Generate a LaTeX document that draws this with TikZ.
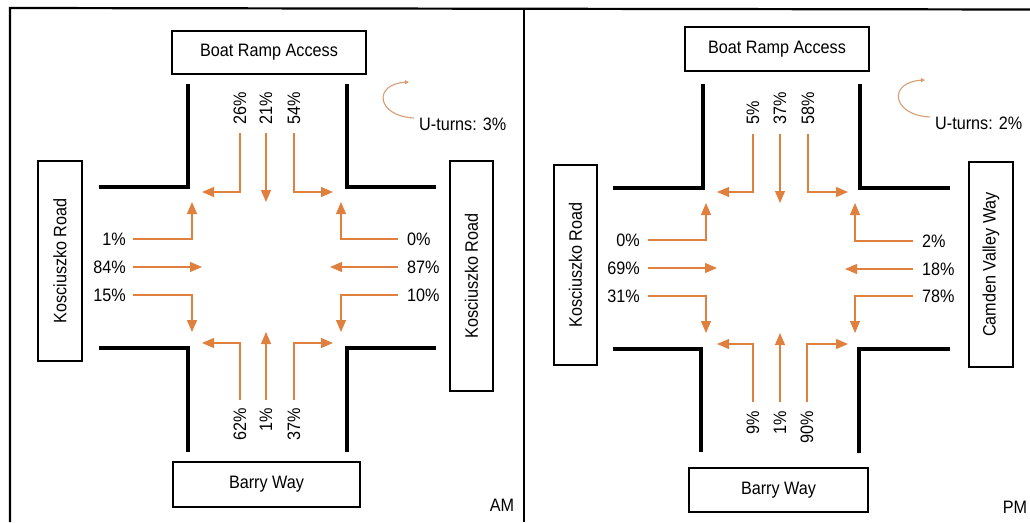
\documentclass[tikz,border=0pt]{standalone}
\usepackage{fontspec}
\setmainfont{Liberation Sans}[FakeStretch=0.9]
\usetikzlibrary{arrows.meta}
\definecolor{flowc}{RGB}{224,128,62}
\definecolor{turnc}{RGB}{214,158,116}
\begin{document}
\begin{tikzpicture}[x=1pt,y=-1pt,
  font=\fontsize{18}{21}\selectfont,
  frame/.style={line width=2.2pt},
  curb/.style={line width=3.2pt, line join=miter},
  road/.style={draw, line width=1.5pt, inner sep=0pt},
  pct/.style={inner sep=0pt},
  flow/.style={draw=flowc, line width=1.1pt, -{Triangle[length=12pt,width=10pt]}},
  uturn/.style={draw=turnc, line width=1.1pt, -{Triangle[length=4pt,width=4pt]}}]
\useasboundingbox (0,0) rectangle (1030,522);

% outer frame and divider between the two periods
\draw[frame] (10,522) -- (10,8) -- (1030,9.5);
\draw[frame] (524,8.5) -- (524,522);

% ---------------- morning peak ----------------
\begin{scope}[name prefix=am-]
  % kerb lines of the crossroads
  \draw[curb] (99,187) -- (188,187) -- (188,84);
  \draw[curb] (347,84) -- (347,187) -- (436,187);
  \draw[curb] (99,348) -- (188,348) -- (188,452);
  \draw[curb] (347,452) -- (347,348) -- (436,348);

  % road names
  \node[road, minimum width=194pt, minimum height=43pt] (north) at (269,52.5) {Boat Ramp Access};
  \node[road, minimum width=187pt, minimum height=45pt] (south) at (266.5,484.5) {Barry Way};
  \node[road, rotate=90, minimum width=200pt, minimum height=44pt] (west) at (60,261) {Kosciuszko Road};
  \node[road, rotate=90, minimum width=230pt, minimum height=43pt] (east) at (471.5,276) {Kosciuszko Road};

  % northern approach
  \node[pct, rotate=90, anchor=west] (n1) at (240,125) {26\%};
  \node[pct, rotate=90, anchor=west] (n2) at (266,125) {21\%};
  \node[pct, rotate=90, anchor=west] (n3) at (294,125) {54\%};
  \coordinate (n1t) at (202,192);
  \coordinate (n2t) at (266,202);
  \coordinate (n3t) at (333,192);
  \draw[flow, shorten <=8pt] (n1.west) |- (n1t);
  \draw[flow, shorten <=8pt] (n2.west) -- (n2t);
  \draw[flow, shorten <=8pt] (n3.west) |- (n3t);

  % western approach
  \node[pct, anchor=east] (w1) at (126,239) {1\%};
  \node[pct, anchor=east] (w2) at (126,267) {84\%};
  \node[pct, anchor=east] (w3) at (126,295) {15\%};
  \coordinate (w1t) at (192,202);
  \coordinate (w2t) at (202,267);
  \coordinate (w3t) at (192,332);
  \draw[flow, shorten <=7pt] (w1.east) -| (w1t);
  \draw[flow, shorten <=7pt] (w2.east) -- (w2t);
  \draw[flow, shorten <=7pt] (w3.east) -| (w3t);

  % eastern approach
  \node[pct, anchor=west] (e1) at (407,239) {0\%};
  \node[pct, anchor=west] (e2) at (407,267) {87\%};
  \node[pct, anchor=west] (e3) at (407,295) {10\%};
  \coordinate (e1t) at (341,202);
  \coordinate (e2t) at (330,267);
  \coordinate (e3t) at (341,332);
  \draw[flow, shorten <=9pt] (e1.west) -| (e1t);
  \draw[flow, shorten <=9pt] (e2.west) -- (e2t);
  \draw[flow, shorten <=9pt] (e3.west) -| (e3t);

  % southern approach
  \node[pct, rotate=90, anchor=east] (s1) at (240,408) {62\%};
  \node[pct, rotate=90, anchor=east] (s2) at (266,408) {1\%};
  \node[pct, rotate=90, anchor=east] (s3) at (294,408) {37\%};
  \coordinate (s1t) at (202,343);
  \coordinate (s2t) at (266,332);
  \coordinate (s3t) at (333,343);
  \draw[flow, shorten <=8pt] (s1.east) |- (s1t);
  \draw[flow, shorten <=8pt] (s2.east) -- (s2t);
  \draw[flow, shorten <=8pt] (s3.east) |- (s3t);

  % u-turn share
  \node[pct, anchor=west] (ut) at (419,124) {U-turns: 3\%};
  \coordinate (uts) at (414,118);
  \coordinate (ute) at (409,82);
  \draw[uturn] (uts) .. controls (376,116) and (373,84) .. (ute);

  \node[pct] (period) at (502,505) {AM};
\end{scope}

% ---------------- evening peak ----------------
\begin{scope}[shift={(515,0)}, name prefix=pm-]
  % kerb lines of the crossroads
  \draw[curb] (98,188) -- (188,188) -- (188,84);
  \draw[curb] (345,84) -- (345,188) -- (435,188);
  \draw[curb] (98,349) -- (186,349) -- (186,452);
  \draw[curb] (344,453) -- (344,349) -- (435,349);

  % road names
  \node[road, minimum width=184pt, minimum height=44pt] (north) at (262,49) {Boat Ramp Access};
  \node[road, minimum width=179pt, minimum height=44pt] (south) at (263.5,490) {Barry Way};
  \node[road, rotate=90, minimum width=200pt, minimum height=43pt] (west) at (60.5,265) {Kosciuszko Road};
  \node[road, rotate=90, minimum width=205pt, minimum height=44pt] (east) at (476,264.5) {Camden Valley Way};

  % northern approach
  \node[pct, rotate=90, anchor=west] (n1) at (238,125) {5\%};
  \node[pct, rotate=90, anchor=west] (n2) at (265,125) {37\%};
  \node[pct, rotate=90, anchor=west] (n3) at (293,125) {58\%};
  \coordinate (n1t) at (202,192);
  \coordinate (n2t) at (265,203);
  \coordinate (n3t) at (333,192);
  \draw[flow, shorten <=9pt] (n1.west) |- (n1t);
  \draw[flow, shorten <=9pt] (n2.west) -- (n2t);
  \draw[flow, shorten <=9pt] (n3.west) |- (n3t);

  % western approach
  \node[pct, anchor=east] (w1) at (125,240) {0\%};
  \node[pct, anchor=east] (w2) at (125,268) {69\%};
  \node[pct, anchor=east] (w3) at (125,296) {31\%};
  \coordinate (w1t) at (191,203);
  \coordinate (w2t) at (202,268);
  \coordinate (w3t) at (191,333);
  \draw[flow, shorten <=8pt] (w1.east) -| (w1t);
  \draw[flow, shorten <=8pt] (w2.east) -- (w2t);
  \draw[flow, shorten <=8pt] (w3.east) -| (w3t);

  % eastern approach
  \node[pct, anchor=west] (e1) at (407,241) {2\%};
  \node[pct, anchor=west] (e2) at (407,269) {18\%};
  \node[pct, anchor=west] (e3) at (407,296) {78\%};
  \coordinate (e1t) at (340,203);
  \coordinate (e2t) at (330,269);
  \coordinate (e3t) at (340,333);
  \draw[flow, shorten <=9pt] (e1.west) -| (e1t);
  \draw[flow, shorten <=9pt] (e2.west) -- (e2t);
  \draw[flow, shorten <=9pt] (e3.west) -| (e3t);

  % southern approach
  \node[pct, rotate=90, anchor=east] (s1) at (238,411) {9\%};
  \node[pct, rotate=90, anchor=east] (s2) at (265,411) {1\%};
  \node[pct, rotate=90, anchor=east] (s3) at (292,411) {90\%};
  \coordinate (s1t) at (202,344);
  \coordinate (s2t) at (265,333);
  \coordinate (s3t) at (333,344);
  \draw[flow, shorten <=9pt] (s1.east) |- (s1t);
  \draw[flow, shorten <=9pt] (s2.east) -- (s2t);
  \draw[flow, shorten <=9pt] (s3.east) |- (s3t);

  % u-turn share
  \node[pct, anchor=west] (ut) at (420,123) {U-turns: 2\%};
  \coordinate (uts) at (415,117);
  \coordinate (ute) at (410,80);
  \draw[uturn] (uts) .. controls (376,115) and (373,82) .. (ute);

  \node[pct] (period) at (500,507) {PM};
\end{scope}
\end{tikzpicture}
\end{document}
